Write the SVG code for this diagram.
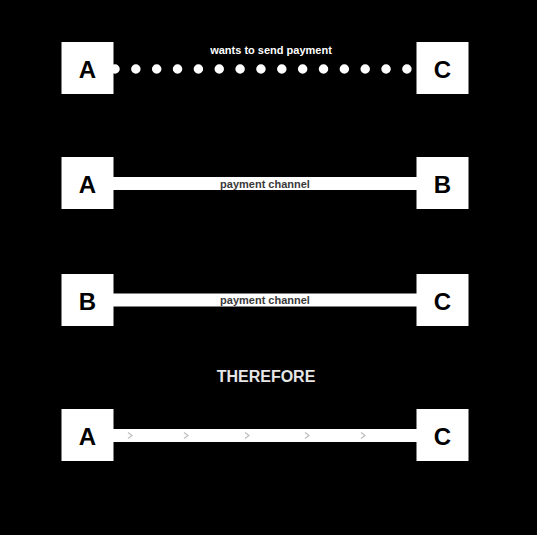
<svg xmlns="http://www.w3.org/2000/svg" width="537" height="535" viewBox="0 0 537 535">
  <style>
    .box { fill: #ffffff; }
    .lbl { font-family: "Liberation Sans", Arial, sans-serif; font-weight: bold; font-size: 24px; fill: #000000; text-anchor: middle; dominant-baseline: central; }
    .band { stroke: #ffffff; stroke-width: 13; fill: none; }
    .dots { stroke: #ffffff; stroke-width: 9.5; stroke-linecap: round; stroke-dasharray: 0 20.85; fill: none; }
    .clbl { font-family: "Liberation Sans", Arial, sans-serif; font-size: 11px; font-weight: bold; fill: #3a3a3a; text-anchor: middle; }
    .wlbl { font-family: "Liberation Sans", Arial, sans-serif; font-size: 11px; font-weight: bold; fill: #ffffff; text-anchor: middle; }
    .chev { stroke: #bdbdbd; stroke-width: 1.2; fill: none; }
  </style>
  <rect x="0" y="0" width="537" height="535" fill="#000000"/>

  <g id="connectors">
    <line class="dots" x1="115" y1="69" x2="408" y2="69"/>
    <line class="band" x1="113" y1="183.5" x2="417" y2="183.5"/>
    <line class="band" x1="113" y1="300" x2="417" y2="300"/>
    <line class="band" x1="113" y1="435.5" x2="417" y2="435.5"/>
    <path class="chev" d="M128,432.5 L132,435.5 L128,438.5"/>
    <path class="chev" d="M184,432.5 L188,435.5 L184,438.5"/>
    <path class="chev" d="M245,432.5 L249,435.5 L245,438.5"/>
    <path class="chev" d="M305,432.5 L309,435.5 L305,438.5"/>
    <path class="chev" d="M361,432.5 L365,435.5 L361,438.5"/>
    <text class="wlbl" x="271" y="54">wants to send payment</text>
    <text class="clbl" x="265" y="187.5">payment channel</text>
    <text class="clbl" x="265" y="304">payment channel</text>
  </g>

  <g id="node-a1"><rect class="box" x="61.5" y="42" width="52" height="52"/><text class="lbl" x="87.5" y="69">A</text></g>
  <g id="node-c1"><rect class="box" x="416.5" y="42" width="52" height="52"/><text class="lbl" x="442.5" y="69">C</text></g>

  <g id="node-a2"><rect class="box" x="61.5" y="157" width="52" height="52"/><text class="lbl" x="87.5" y="184">A</text></g>
  <g id="node-b2"><rect class="box" x="416.5" y="157" width="52" height="52"/><text class="lbl" x="442.5" y="184">B</text></g>

  <g id="node-b3"><rect class="box" x="61.5" y="274" width="52" height="52"/><text class="lbl" x="87.5" y="301">B</text></g>
  <g id="node-c3"><rect class="box" x="416.5" y="274" width="52" height="52"/><text class="lbl" x="442.5" y="301">C</text></g>

  <g id="therefore"><text x="266" y="382" font-family="Liberation Sans, Arial, sans-serif" font-weight="bold" font-size="16" fill="#e6e6e6" text-anchor="middle">THEREFORE</text></g>

  <g id="node-a4"><rect class="box" x="61.5" y="409" width="52" height="52"/><text class="lbl" x="87.5" y="436">A</text></g>
  <g id="node-c4"><rect class="box" x="416.5" y="409" width="52" height="52"/><text class="lbl" x="442.5" y="436">C</text></g>
</svg>
